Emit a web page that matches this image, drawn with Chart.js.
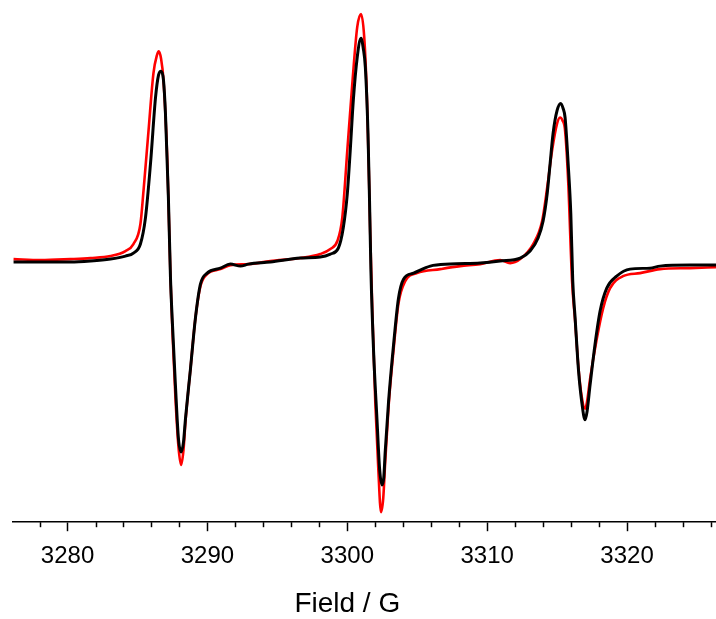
<!DOCTYPE html>
<html lang="en">
  <head>
    <meta charset="UTF-8" />
    <title>EPR spectrum</title>
    <script src="https://cdn.jsdelivr.net/npm/chart.js"></script>
    <style>
      body { margin: 0; background: #fff; }
      canvas { display: block; }
    </style>
  </head>

  <body>
    <canvas id="epr" width="716" height="619"></canvas>
    <script>
      // field (G) and signal (arb. units, baseline = 0)
      const blackField = [
        3276.14, 3278.07, 3280.21, 3281.64, 3283.07, 3284.14, 3284.71, 3285.21, 3285.57, 3285.93,
        3286.29, 3286.5, 3286.69, 3286.86, 3287.0, 3287.21, 3287.36, 3287.48, 3287.71, 3287.93,
        3288.12, 3288.29, 3288.43, 3288.79, 3289.14, 3289.5, 3289.98, 3290.93, 3291.64, 3292.36,
        3292.93, 3294.5, 3296.64, 3298.07, 3298.79, 3299.36, 3299.71, 3300.0, 3300.21, 3300.43,
        3300.71, 3300.98, 3301.14, 3301.29, 3301.48, 3301.59, 3301.69, 3301.88, 3302.12, 3302.31,
        3302.48, 3302.61, 3302.71, 3302.95, 3303.31, 3303.66, 3304.02, 3304.74, 3305.93, 3307.36,
        3309.5, 3310.93, 3312.36, 3313.07, 3313.64, 3314.0, 3314.29, 3314.5, 3314.71, 3315.0,
        3315.26, 3315.43, 3315.57, 3315.79, 3315.98, 3316.12, 3316.29, 3316.52, 3316.76, 3317.0,
        3317.14, 3317.36, 3317.71, 3318.07, 3318.55, 3319.26, 3320.21, 3321.64, 3322.36, 3324.5,
        3326.36
      ];
      const blackSignal = [
        -1, -1, -1, 0, 2, 5, 8, 17, 43, 97,
        163, 185, 189, 180, 147, 63, -17, -57, -123, -177,
        -190, -180, -157, -107, -57, -23, -12, -7, -3, -5,
        -3, -1, 3, 4, 7, 13, 33, 67, 110, 160,
        203, 222, 212, 193, 127, 60, -10, -90, -157, -207,
        -223, -215, -190, -140, -83, -37, -18, -12, -5, -3,
        -2, 0, 3, 10, 23, 40, 67, 97, 127, 150,
        157, 152, 143, 97, 47, -20, -57, -107, -140, -158,
        -150, -123, -83, -50, -27, -15, -8, -7, -5, -4,
        -4
      ];

      const redField = [
        3276.14, 3278.07, 3280.21, 3281.64, 3283.07, 3284.14, 3284.71, 3285.21, 3285.43, 3285.79,
        3286.14, 3286.39, 3286.52, 3286.68, 3286.86, 3287.14, 3287.36, 3287.5, 3287.71, 3287.93,
        3288.12, 3288.29, 3288.43, 3288.79, 3289.14, 3289.5, 3289.98, 3290.93, 3291.64, 3292.93,
        3294.5, 3296.64, 3298.07, 3298.79, 3299.29, 3299.64, 3300.0, 3300.36, 3300.71, 3300.98,
        3301.21, 3301.41, 3301.54, 3301.64, 3301.79, 3302.0, 3302.21, 3302.41, 3302.57, 3302.71,
        3302.95, 3303.31, 3303.66, 3304.14, 3304.98, 3306.64, 3308.07, 3309.5, 3310.93, 3311.64,
        3312.36, 3313.29, 3313.93, 3314.29, 3314.64, 3315.0, 3315.21, 3315.39, 3315.57, 3315.79,
        3316.07, 3316.29, 3316.52, 3316.76, 3317.0, 3317.14, 3317.36, 3317.84, 3318.29, 3318.79,
        3319.71, 3320.93, 3322.36, 3324.5, 3326.36
      ];
      const redSignal = [
        2, 1, 2, 3, 5, 10, 17, 37, 70, 130,
        187, 205, 209, 202, 180, 97, -17, -70, -135, -185,
        -203, -188, -160, -107, -57, -25, -13, -8, -4, -3,
        0, 3, 7, 12, 20, 43, 110, 177, 233, 246,
        223, 160, 90, 27, -50, -140, -205, -250, -236, -200,
        -145, -88, -42, -20, -12, -8, -5, -3, 1, -2,
        2, 17, 40, 73, 110, 137, 143, 140, 130, 80,
        -20, -60, -105, -135, -147, -140, -117, -77, -47, -27,
        -15, -12, -8, -7, -6
      ];

      const fieldMin = 3276.1;
      const fieldMax = 3326.36;
      const majorTicks = [3280, 3290, 3300, 3310, 3320];
      const minorStep = 2;
      const axisTitle = "Field / G";

      const toPoints = (xs, ys) => xs.map((x, i) => ({ x: x, y: ys[i] }));

      // short minor ticks every 2 G plus the axis title under 3300 G
      const axisExtras = {
        id: "axisExtras",
        afterDraw(chart) {
          const ctx = chart.ctx;
          const xs = chart.scales.x;
          ctx.save();
          ctx.strokeStyle = "#000";
          ctx.lineWidth = 1.5;
          for (let v = Math.ceil(fieldMin / minorStep) * minorStep; v <= fieldMax; v += minorStep) {
            if (v % 10 === 0) continue;
            const px = Math.round(xs.getPixelForValue(v)) + 0.5;
            ctx.beginPath();
            ctx.moveTo(px, xs.top);
            ctx.lineTo(px, xs.top + 5);
            ctx.stroke();
          }
          ctx.fillStyle = "#000";
          ctx.font = '28px "Liberation Sans", Arial, sans-serif';
          ctx.textAlign = "center";
          ctx.textBaseline = "middle";
          ctx.fillText(axisTitle, xs.getPixelForValue(3300), 604);
          ctx.restore();
        },
      };

      new Chart(document.getElementById("epr"), {
        type: "line",
        data: {
          datasets: [
            {
              label: "black",
              data: toPoints(blackField, blackSignal),
              borderColor: "#000000",
              borderWidth: 3,
              pointRadius: 0,
              cubicInterpolationMode: "monotone",
            },
            {
              label: "red",
              data: toPoints(redField, redSignal),
              borderColor: "#ff0000",
              borderWidth: 2.6,
              pointRadius: 0,
              cubicInterpolationMode: "monotone",
            },
          ],
        },
        options: {
          responsive: false,
          animation: false,
          layout: { padding: { left: 13, right: 0, top: 0, bottom: 37 } },
          plugins: { legend: { display: false }, tooltip: { enabled: false } },
          scales: {
            x: {
              type: "linear",
              min: fieldMin,
              max: fieldMax,
              afterBuildTicks: (scale) => {
                scale.ticks = majorTicks.map((v) => ({ value: v }));
              },
              ticks: {
                color: "#000",
                padding: 11,
                maxRotation: 0,
                autoSkip: false,
                callback: (v) => String(v),
                font: { family: '"Liberation Sans", Arial, sans-serif', size: 24 },
              },
              grid: {
                drawOnChartArea: false,
                drawTicks: true,
                tickLength: 9,
                tickColor: "#000",
                tickWidth: 1.5,
              },
              border: { display: true, color: "#000", width: 1.5 },
            },
            y: {
              display: false,
              min: -260,
              max: 260,
            },
          },
        },
        plugins: [axisExtras],
      });
    </script>
  </body>
</html>
